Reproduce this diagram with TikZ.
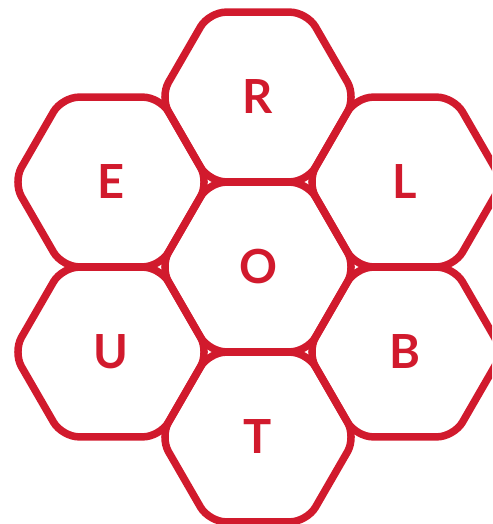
\documentclass[tikz,border=0pt]{standalone}
\usepackage{fontspec}
\setmainfont{Lato}
\usetikzlibrary{shapes.geometric}
\definecolor{hexred}{HTML}{D11A2D}
\tikzset{
  cell/.style={regular polygon, regular polygon sides=6, minimum size=196pt,
    inner sep=0pt, outer sep=0pt, draw=hexred, line width=7.5pt,
    rounded corners=17pt, text=hexred,
    font=\fontsize{47}{47}\selectfont\bfseries},
}
\begin{document}
\begin{tikzpicture}[x=1pt, y=-1pt]
  \useasboundingbox (0,0) rectangle (492,524);
  \clip (0,0) rectangle (492,524);

  % Centre cell
  \node[cell] (o) at (258,267) {O};

  % Ring of cells
  \node[cell] (r) at (258,97)  {R};
  \node[cell] (l) at (405,182) {L};
  \node[cell] (b) at (405,352) {B};
  \node[cell] (t) at (258,437) {T};
  \node[cell] (u) at (111,352) {U};
  \node[cell] (e) at (111,182) {E};
\end{tikzpicture}
\end{document}
